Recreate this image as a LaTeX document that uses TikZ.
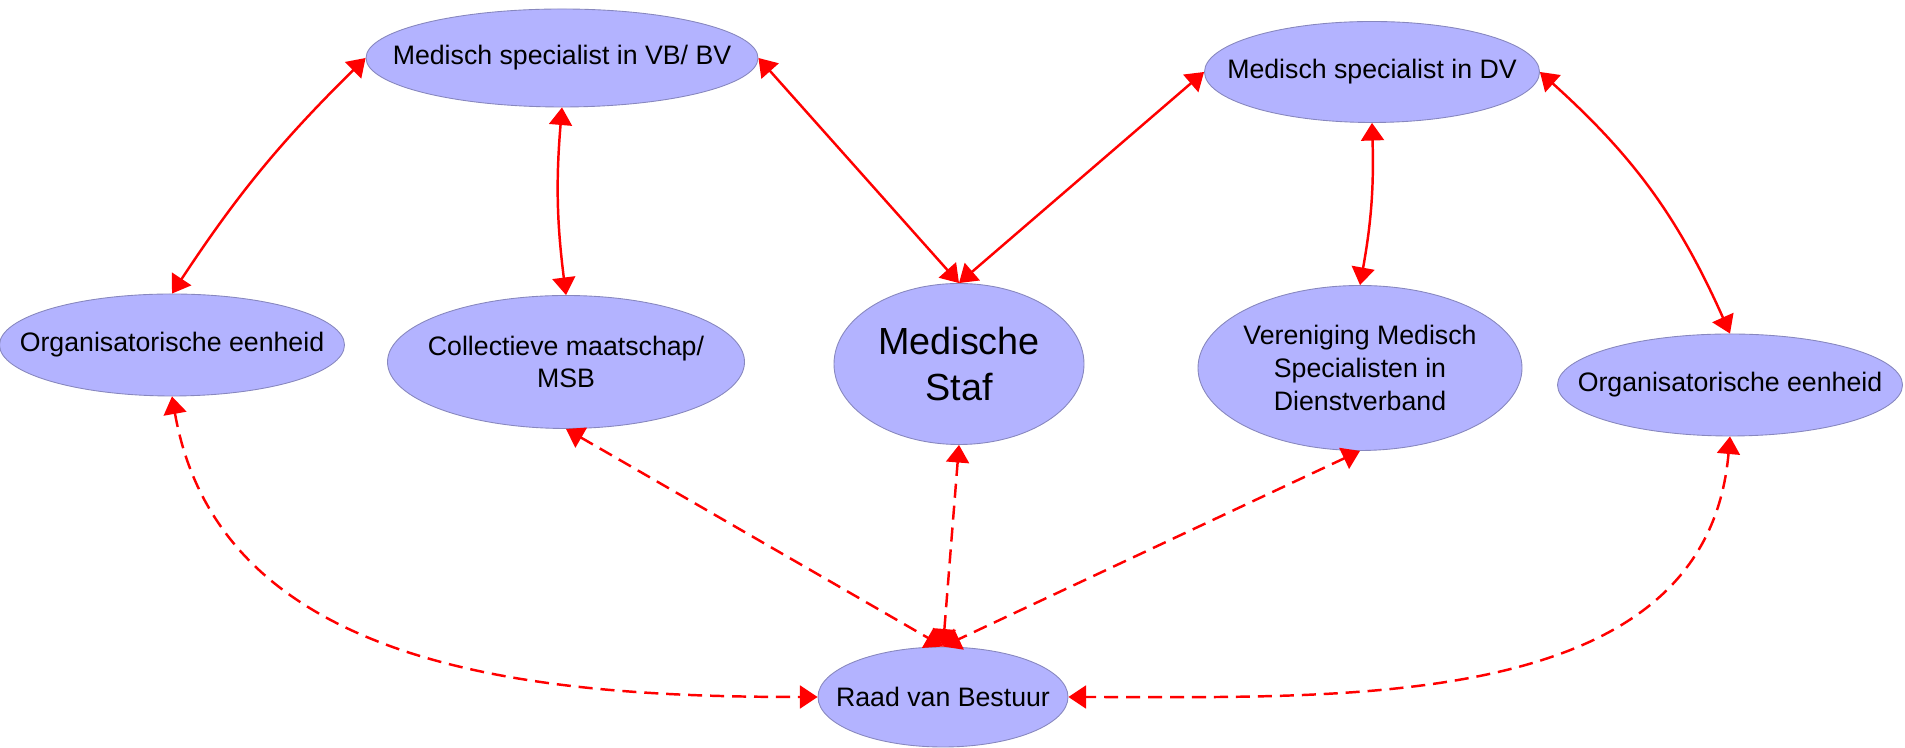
\documentclass[tikz,border=0pt]{standalone}
\usepackage{fontspec}
\setmainfont{Liberation Sans}
\usetikzlibrary{shapes.geometric,arrows.meta}

\definecolor{orgfill}{RGB}{179,179,255}
\definecolor{orgline}{RGB}{135,135,190}

\tikzset{
    orgnode/.style={ellipse,fill=orgfill,draw=orgline,line width=0.5pt,inner xsep=-60pt,inner ysep=-10pt,
        align=center,font=\fontsize{15.2}{18.6}\selectfont},
    rel/.style={red,line width=1.4pt,{Triangle[length=10pt,width=13pt]}-{Triangle[length=10pt,width=13pt]}},
    relrvb/.style={rel,dash pattern=on 8pt off 4.5pt}
}

\begin{document}
\begin{tikzpicture}
                \useasboundingbox (0,0) rectangle (38.1,14.96);

                \node[orgnode,minimum width=7.84cm,minimum height=1.96cm] (vb) at (11.24,13.80) {Medisch specialist in VB/ BV};
                \node[orgnode,minimum width=6.7cm,minimum height=2.02cm] (dv) at (27.44,13.52) {Medisch specialist in DV};
                \node[orgnode,minimum width=6.9cm,minimum height=2.04cm] (oel) at (3.44,8.06) {Organisatorische eenheid};
                \node[orgnode,minimum width=7.14cm,minimum height=2.66cm] (msb) at (11.32,7.72) {Collectieve maatschap/\\MSB};
                \node[orgnode,minimum width=5cm,minimum height=3.22cm,font=\fontsize{21.5}{26.5}\selectfont] (staf) at (19.18,7.68) {Medische\\Staf};
                \node[orgnode,minimum width=6.48cm,minimum height=3.3cm] (vms) at (27.2,7.6) {Vereniging Medisch\\Specialisten in\\Dienstverband};
                \node[orgnode,minimum width=6.9cm,minimum height=2.04cm] (oer) at (34.6,7.26) {Organisatorische eenheid};
                \node[orgnode,minimum width=5cm,minimum height=2cm] (rvb) at (18.86,1.02) {Raad van Bestuur};

                % doorgetrokken lijnen
                \draw[rel] (vb.west) to[bend right=6] (oel.north);
                \draw[rel] (vb.south) to[bend right=6] (msb.north);
                \draw[rel] (vb.east) -- (staf.north);
                \draw[rel] (staf.north) -- (dv.west);
                \draw[rel] (dv.south) to[bend left=6] (vms.north);
                \draw[rel] (dv.east) to[bend left=12] (oer.north);

                % gestippelde lijnen naar RvB
                \draw[relrvb] (oel.south) to[out=-80,in=180] (rvb.west);
                \draw[relrvb] (msb.south) -- (rvb.north);
                \draw[relrvb] (staf.south) -- (rvb.north);
                \draw[relrvb] (vms.south) -- (rvb.north);
                \draw[relrvb] (oer.south) to[out=-95,in=0] (rvb.east);

\end{tikzpicture}
\end{document}
